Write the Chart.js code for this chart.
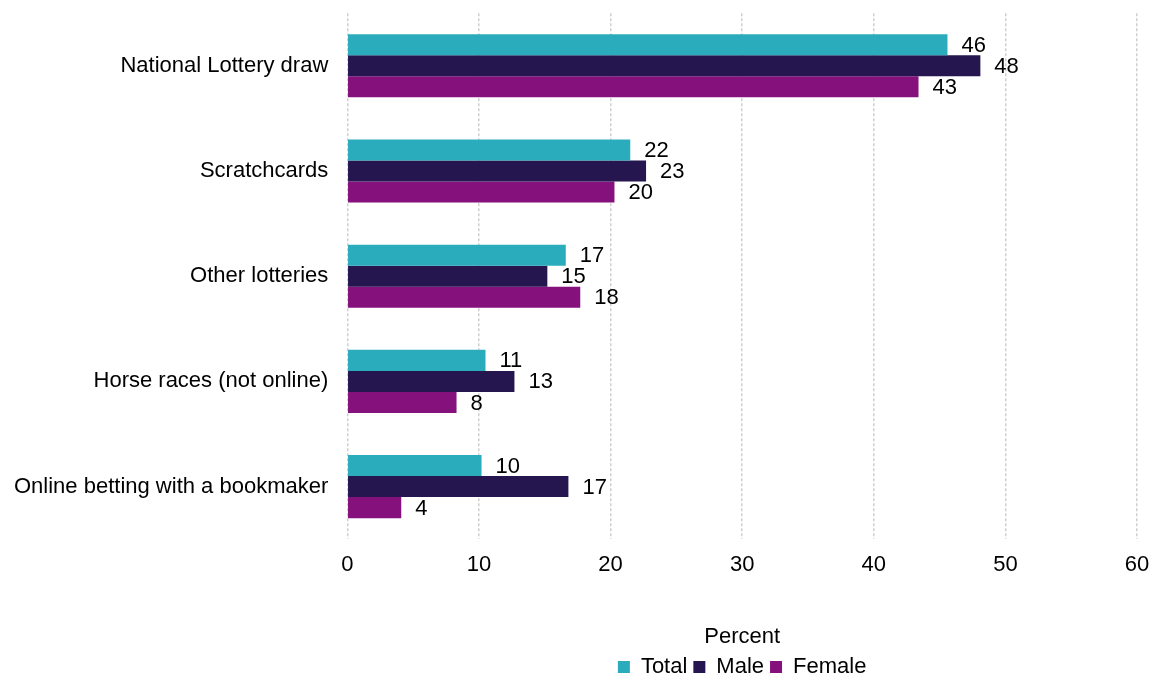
<!DOCTYPE html>
<html>
<head>
<meta charset="utf-8">
<script src="https://cdn.jsdelivr.net/npm/chart.js@4"></script>
<style>
  body { margin: 0; background: #fff; }
</style>
</head>
<body>
<canvas id="chart" width="1152" height="677"></canvas>
<script>
var categories = ['National Lottery draw', 'Scratchcards', 'Other lotteries', 'Horse races (not online)', 'Online betting with a bookmaker'];
var totalValues = [45.6, 21.5, 16.6, 10.5, 10.2];
var maleValues = [48.1, 22.7, 15.2, 12.7, 16.8];
var femaleValues = [43.4, 20.3, 17.7, 8.3, 4.1];

var fontFamily = 'Arial, "Liberation Sans", sans-serif';
Chart.defaults.font.family = fontFamily;
Chart.defaults.font.size = 22;
Chart.defaults.color = '#000';

// etiquetas de valor al final de cada barra
var barLabels = {
    id: 'barLabels',
    afterDatasetsDraw: function (chart) {
        var ctx = chart.ctx;
        ctx.save();
        ctx.font = '22px ' + fontFamily;
        ctx.fillStyle = '#000';
        ctx.textBaseline = 'middle';
        ctx.textAlign = 'left';
        chart.data.datasets.forEach(function (ds, i) {
            chart.getDatasetMeta(i).data.forEach(function (bar, j) {
                ctx.fillText(Math.round(ds.data[j]), bar.x + 14, bar.y + 1);
            });
        });
        ctx.restore();
    }
};

new Chart(document.getElementById('chart'), {
    type: 'bar',
    data: {
        labels: categories,
        datasets: [
            { label: 'Total', data: totalValues, backgroundColor: '#2aacbd' },
            { label: 'Male', data: maleValues, backgroundColor: '#251650' },
            { label: 'Female', data: femaleValues, backgroundColor: '#84117c' }
        ]
    },
    options: {
        indexAxis: 'y',
        responsive: false,
        animation: false,
        layout: { padding: { top: 0, left: 14, right: 0, bottom: -11 } },
        datasets: { bar: { categoryPercentage: 0.6, barPercentage: 1.0 } },
        scales: {
            x: {
                min: 0,
                max: 60,
                ticks: { stepSize: 10, padding: 13 },
                grid: { color: '#cfcfcf', lineWidth: 1.5, drawTicks: false },
                border: { display: false, dash: [3, 2] },
                title: { display: true, text: 'Percent', padding: { top: 32, bottom: 0 } },
                afterFit: function (scale) {
                    scale.paddingRight = 15;
                }
            },
            y: {
                grid: { display: false, tickLength: 19 },
                border: { display: false },
                ticks: { padding: 0 }
            }
        },
        plugins: {
            legend: {
                position: 'bottom',
                fullSize: false,
                labels: { boxWidth: 12, boxHeight: 12, padding: 6 }
            },
            tooltip: { enabled: false }
        }
    },
    plugins: [barLabels]
});
</script>
</body>
</html>
